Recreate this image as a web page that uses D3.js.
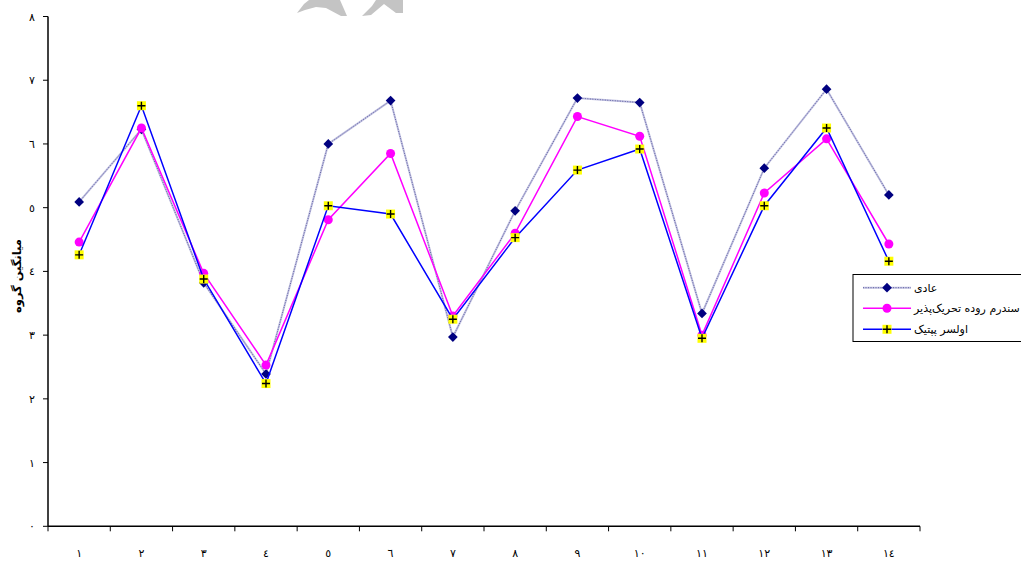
<!DOCTYPE html>
<html lang="fa">
<head>
<meta charset="UTF-8">
<title>میانگین گروه</title>
<script src="https://d3js.org/d3.v7.min.js"></script>
<style>
    body { margin: 0; background: #fff; }
    svg { display: block; font-family: "DejaVu Sans", sans-serif; }
</style>
</head>
<body>
<div id="chart"></div>
<script>
// categories (Arabic-Indic digits as in the original)
const categories = ["١","٢","٣","٤","٥","٦","٧","٨","٩","١٠","١١","١٢","١٣","١٤"];
const yTicks = [0, 1, 2, 3, 4, 5, 6, 7, 8];
const yTickLabels = ["٠","١","٢","٣","٤","٥","٦","٧","٨"];
const seriesNames = ["عادی", "سندرم روده تحریک‌پذیر", "اولسر پپتیک"];

const normal  = [5.09, 6.23, 3.82, 2.39, 6.00, 6.68, 2.97, 4.95, 6.72, 6.65, 3.34, 5.62, 6.86, 5.20];
const ibs     = [4.46, 6.25, 3.97, 2.53, 4.81, 5.85, 3.30, 4.60, 6.43, 6.12, 3.00, 5.23, 6.08, 4.43];
const ulcer   = [4.26, 6.60, 3.88, 2.24, 5.03, 4.90, 3.25, 4.53, 5.59, 5.92, 2.95, 5.03, 6.25, 4.16];

const width = 1021, height = 562;
const plot = { left: 48, right: 920, top: 16.5, bottom: 526.3 };

const svg = d3.select("#chart").append("svg")
    .attr("width", width)
    .attr("height", height);

// faint watermark fragment at the top edge
svg.append("path")
    .attr("d", "M297,13 L304,4 L309,0 L340,0 L347,16 L341,16 L326,8 L316,7 L305,10 Z")
    .attr("fill", "#c4c4c4");
svg.append("path")
    .attr("d", "M362,16 L372,6 L376,0 L403,0 L403,13 L396,13 L384,4 L371,15 Z")
    .attr("fill", "#c4c4c4");

const x = d3.scaleBand()
    .domain(categories)
    .range([plot.left, plot.right]);

const y = d3.scaleLinear()
    .domain([0, 8])
    .range([plot.bottom, plot.top]);

// x axis
const xAxis = svg.append("g")
    .attr("transform", `translate(0,${plot.bottom})`);
xAxis.append("line")
    .attr("x1", plot.left).attr("x2", plot.right)
    .attr("stroke", "#000").attr("stroke-width", 1.5);
const xEdges = categories.map(c => x(c)).concat([plot.right]);
xAxis.selectAll(".xt").data(xEdges).enter().append("line")
    .attr("x1", d => d).attr("x2", d => d)
    .attr("y1", 0).attr("y2", 5)
    .attr("stroke", "#000");
xAxis.selectAll(".xl").data(categories).enter().append("text")
    .attr("x", d => x(d) + x.bandwidth() / 2)
    .attr("y", 31)
    .attr("text-anchor", "middle")
    .attr("font-size", 11)
    .text(d => d);

// y axis
const yAxis = svg.append("g");
yAxis.append("line")
    .attr("x1", plot.left).attr("x2", plot.left)
    .attr("y1", plot.top).attr("y2", plot.bottom)
    .attr("stroke", "#000").attr("stroke-width", 1.5);
yAxis.selectAll(".yt").data(yTicks).enter().append("line")
    .attr("x1", plot.left - 5).attr("x2", plot.left)
    .attr("y1", d => y(d)).attr("y2", d => y(d))
    .attr("stroke", "#000");
yAxis.selectAll(".yl").data(yTicks).enter().append("text")
    .attr("x", 35)
    .attr("y", d => y(d) + 4)
    .attr("text-anchor", "end")
    .attr("font-size", 11)
    .text((d, i) => yTickLabels[i]);

svg.append("text")
    .attr("transform", "translate(21,276) rotate(-90)")
    .attr("text-anchor", "middle")
    .attr("font-size", 11.5)
    .attr("font-weight", "bold")
    .text("میانگین گروه");

const line = d3.line()
    .x((d, i) => x(categories[i]) + x.bandwidth() / 2)
    .y(d => y(d));

// series 1: hatched light line + navy diamonds
svg.append("path").datum(normal)
    .attr("d", line).attr("fill", "none")
    .attr("stroke", "#c0c0e0").attr("stroke-width", 2);
svg.append("path").datum(normal)
    .attr("d", line).attr("fill", "none")
    .attr("stroke", "#3a3a88").attr("stroke-width", 0.7)
    .attr("stroke-dasharray", "1 1.5");
const diamond = d3.symbol().type(d3.symbolDiamond2).size(60);
svg.selectAll(".p1").data(normal).enter().append("path")
    .attr("d", diamond)
    .attr("transform", (d, i) => `translate(${x(categories[i]) + x.bandwidth() / 2},${y(d)})`)
    .attr("fill", "#000080");

// series 2: magenta with circles
svg.append("path").datum(ibs)
    .attr("d", line).attr("fill", "none")
    .attr("stroke", "#ff00ff").attr("stroke-width", 1.5);
svg.selectAll(".p2").data(ibs).enter().append("circle")
    .attr("cx", (d, i) => x(categories[i]) + x.bandwidth() / 2)
    .attr("cy", d => y(d))
    .attr("r", 4.5)
    .attr("fill", "#ff00ff");

// series 3: blue with yellow square + black plus
svg.append("path").datum(ulcer)
    .attr("d", line).attr("fill", "none")
    .attr("stroke", "#0000ff").attr("stroke-width", 1.5);
const p3 = svg.selectAll(".p3").data(ulcer).enter().append("g")
    .attr("transform", (d, i) => `translate(${x(categories[i]) + x.bandwidth() / 2},${y(d)})`);
p3.append("rect")
    .attr("x", -4.5).attr("y", -4.5).attr("width", 9).attr("height", 9)
    .attr("fill", "#ffff00");
p3.append("path")
    .attr("d", "M-4,0 H4 M0,-4 V4")
    .attr("stroke", "#000").attr("stroke-width", 1.4);

// legend
const legend = svg.append("g");
legend.append("rect")
    .attr("x", 853).attr("y", 274.5)
    .attr("width", 180).attr("height", 67)
    .attr("fill", "#fff")
    .attr("stroke", "#000").attr("stroke-width", 1);
const rows = [287.7, 308.3, 329.3];
const lx1 = 863, lx2 = 911, lmid = 887;

// row 1
legend.append("line").attr("x1", lx1).attr("x2", lx2).attr("y1", rows[0]).attr("y2", rows[0])
    .attr("stroke", "#c0c0e0").attr("stroke-width", 2);
legend.append("line").attr("x1", lx1).attr("x2", lx2).attr("y1", rows[0]).attr("y2", rows[0])
    .attr("stroke", "#3a3a88").attr("stroke-width", 0.7).attr("stroke-dasharray", "1 1.5");
legend.append("path").attr("d", diamond)
    .attr("transform", `translate(${lmid},${rows[0]})`).attr("fill", "#000080");
// row 2
legend.append("line").attr("x1", lx1).attr("x2", lx2).attr("y1", rows[1]).attr("y2", rows[1])
    .attr("stroke", "#ff00ff").attr("stroke-width", 1.5);
legend.append("circle").attr("cx", lmid).attr("cy", rows[1]).attr("r", 4.5).attr("fill", "#ff00ff");
// row 3
legend.append("line").attr("x1", lx1).attr("x2", lx2).attr("y1", rows[2]).attr("y2", rows[2])
    .attr("stroke", "#0000ff").attr("stroke-width", 1.5);
legend.append("rect").attr("x", lmid - 4.5).attr("y", rows[2] - 4.5).attr("width", 9).attr("height", 9)
    .attr("fill", "#ffff00");
legend.append("path").attr("d", `M${lmid - 4},${rows[2]} H${lmid + 4} M${lmid},${rows[2] - 4} V${rows[2] + 4}`)
    .attr("stroke", "#000").attr("stroke-width", 1.4);

legend.selectAll(".lt").data(seriesNames).enter().append("text")
    .attr("x", 914)
    .attr("y", (d, i) => rows[i] + 4)
    .attr("font-size", 11)
    .text(d => d);
</script>
</body>
</html>
